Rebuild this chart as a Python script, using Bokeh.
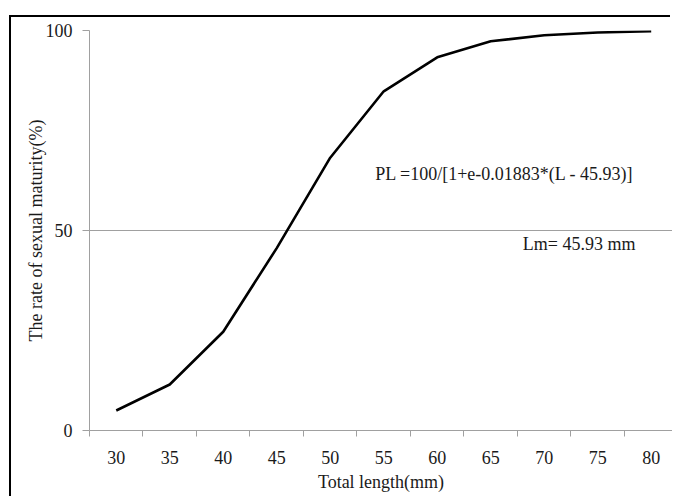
from bokeh.plotting import figure
from bokeh.models import Range1d, FixedTicker, Label
from bokeh.embed import file_html
from bokeh.resources import INLINE

# Data
lengths = [30, 35, 40, 45, 50, 55, 60, 65, 70, 75, 80]
maturity = [5.0, 11.5, 24.7, 45.6, 68.2, 84.8, 93.3, 97.3, 98.8, 99.5, 99.8]
y_ticks = [0, 50, 100]
category_edges = [27.5, 32.5, 37.5, 42.5, 47.5, 52.5, 57.5, 62.5, 67.5, 72.5, 77.5, 82.5]
formula_text = "PL =100/[1+e-0.01883*(L - 45.93)]"
lm_text = "Lm= 45.93 mm"

FONT = "Liberation Serif"
FS = "18px"
TXT = "#1a1a1a"
GRID = "#a0a0a0"

p = figure(width=661, height=481, output_backend="svg", toolbar_location=None,
           x_range=Range1d(27.5, 81.99), y_range=Range1d(0, 100),
           min_border_left=78, min_border_top=13, min_border_right=0, min_border_bottom=68,
           margin=(17, 0, 0, 11),
           styles={"box-shadow": "-2px -2px 0 0 black"})
p.outline_line_color = None
p.background_fill_color = "white"
p.border_fill_color = "white"

# x axis: labels at category centres, ticks between categories
xa = p.xaxis[0]
xa.ticker = FixedTicker(ticks=lengths, minor_ticks=category_edges)
xa.axis_line_color = GRID
xa.major_tick_line_color = None
xa.minor_tick_line_color = GRID
xa.minor_tick_out = 6
xa.minor_tick_in = 0
xa.major_label_standoff = 14
xa.major_label_text_font = FONT
xa.major_label_text_font_size = FS
xa.major_label_text_color = TXT
xa.axis_label = "Total length(mm)"
xa.axis_label_text_font = FONT
xa.axis_label_text_font_size = FS
xa.axis_label_text_font_style = "normal"
xa.axis_label_text_color = TXT
xa.axis_label_standoff = 5

ya = p.yaxis[0]
ya.ticker = FixedTicker(ticks=y_ticks, minor_ticks=[])
ya.axis_line_color = GRID
ya.major_tick_line_color = GRID
ya.major_tick_out = 7
ya.major_tick_in = 0
ya.minor_tick_line_color = None
ya.major_label_standoff = 10
ya.major_label_text_font = FONT
ya.major_label_text_font_size = FS
ya.major_label_text_color = TXT
ya.axis_label = "The rate of sexual maturity(%)"
ya.axis_label_text_font = FONT
ya.axis_label_text_font_size = FS
ya.axis_label_text_font_style = "normal"
ya.axis_label_text_color = TXT
ya.axis_label_standoff = -3

p.xgrid.grid_line_color = None
p.ygrid.ticker = FixedTicker(ticks=[50, 100])
p.ygrid.grid_line_color = GRID
p.ygrid.grid_line_width = 1

p.line(lengths, maturity, line_color="black", line_width=2.6, line_join="round")

p.add_layout(Label(x=54.2, y=64.2, text=formula_text, text_font=FONT,
                   text_font_size=FS, text_color=TXT, text_align="left",
                   text_baseline="middle"))
p.add_layout(Label(x=68.0, y=46.7, text=lm_text, text_font=FONT,
                   text_font_size=FS, text_color=TXT, text_align="left",
                   text_baseline="middle"))

open("out.html", "w").write(file_html(p, INLINE))
